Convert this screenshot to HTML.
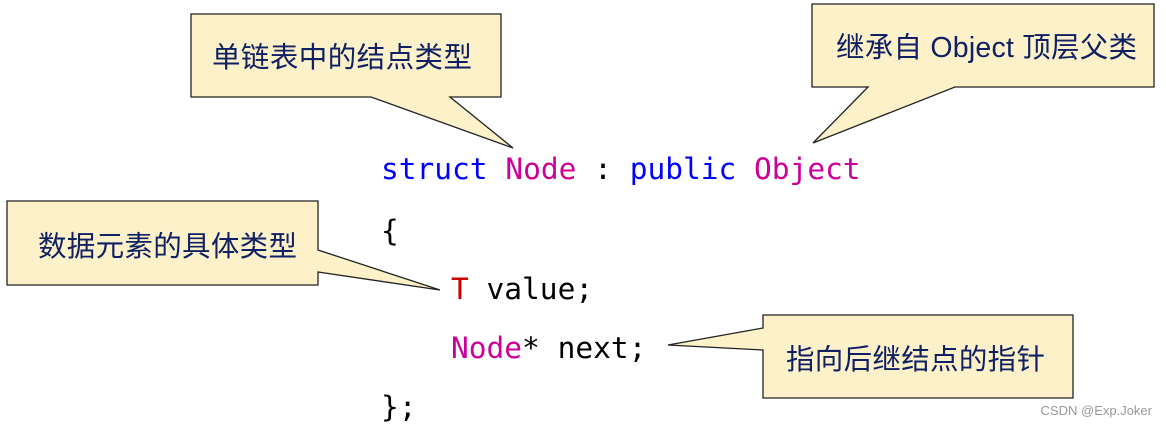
<!DOCTYPE html>
<html><head><meta charset="utf-8"><style>
html,body{margin:0;padding:0;background:#fff;}
body{width:1166px;height:428px;overflow:hidden;position:relative;}
svg{position:absolute;left:0;top:0;}
.c{font-family:"Liberation Sans","Noto Sans CJK SC",sans-serif;font-size:28.5px;fill:#0f2063;}
.m{font-family:"DejaVu Sans Mono","Liberation Mono",monospace;font-size:29.5px;}
</style></head><body>
<svg width="1166" height="428" viewBox="0 0 1166 428">
<g fill="#fdf1ca" stroke="#222" stroke-width="1.3" stroke-linejoin="miter">
<path d="M191,14 H501 V97 H450 L513,148 L371,97 H191 Z"/>
<path d="M812,4 H1154 V87 H955 L813,143 L868,87 H812 Z"/>
<path d="M7,201 H318 V250 L440,290 L318,272 V285 H7 Z"/>
<path d="M763,315 H1073 V398 H763 V350 L668,345 L763,328 Z"/>
</g>
<text class="c" x="212" y="67" textLength="260">单链表中的结点类型</text>
<text class="c" x="836" y="57" textLength="301">继承自 Object 顶层父类</text>
<text class="c" x="38" y="256" textLength="259">数据元素的具体类型</text>
<text class="c" x="786" y="369" textLength="259">指向后继结点的指针</text>
<g class="m">
<text x="381" y="179"><tspan fill="#0000ff">struct</tspan> <tspan fill="#cc0099">Node</tspan><tspan fill="#000"> : </tspan><tspan fill="#0000ff">public</tspan> <tspan fill="#cc0099">Object</tspan></text>
<text x="381" y="241" fill="#000">{</text>
<text x="451" y="299"><tspan fill="#cc0000">T</tspan><tspan fill="#000"> value;</tspan></text>
<text x="451" y="358"><tspan fill="#cc0099">Node</tspan><tspan fill="#000">* next;</tspan></text>
<text x="381" y="417" fill="#000">};</text>
</g>
<text x="1152" y="415" text-anchor="end" font-family="Liberation Sans,sans-serif" font-size="13" fill="#999">CSDN @Exp.Joker</text>
</svg>
</body></html>
